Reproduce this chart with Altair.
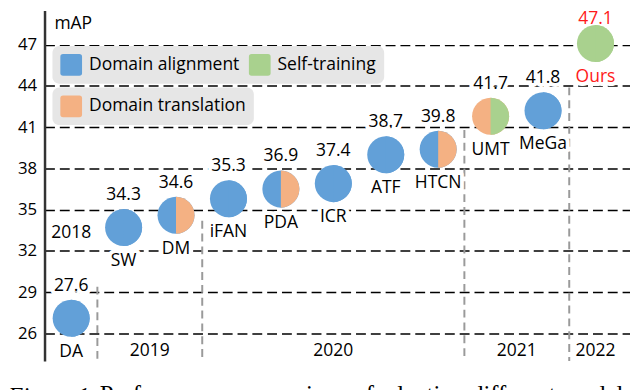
import altair as alt
import pandas as pd

# ---------------- data ----------------
models = ["DA", "SW", "DM", "iFAN", "PDA", "ICR", "ATF", "HTCN", "UMT", "MeGa", "Ours"]
map_values = [27.6, 34.3, 34.6, 35.3, 36.9, 37.4, 38.7, 39.8, 41.7, 41.8, 47.1]
marker_y = [27.1, 33.7, 34.6, 35.8, 36.5, 36.9, 39.0, 39.4, 41.8, 42.2, 47.1]
years = [2018, 2019, 2019, 2020, 2020, 2020, 2020, 2020, 2021, 2021, 2022]
left_method = ["Domain alignment", "Domain alignment", "Domain alignment", "Domain alignment",
               "Domain alignment", "Domain alignment", "Domain alignment", "Domain alignment",
               "Domain translation", "Domain alignment", "Self-training"]
right_method = ["Domain alignment", "Domain alignment", "Domain translation", "Domain alignment",
                "Domain translation", "Domain alignment", "Domain alignment", "Domain translation",
                "Self-training", "Domain alignment", "Self-training"]
method_names = ["Domain alignment", "Self-training", "Domain translation"]
method_colors = ["#62a0d8", "#a9d18e", "#f4b183"]
y_ticks = [26, 29, 32, 35, 38, 41, 44, 47]
year_names = ["2018", "2019", "2020", "2021", "2022"]
year_label_y = [33.3, 24.7, 24.7, 24.7, 24.7]
separator_top = [29.4, 34.2, 40.8, 43.9]
axis_title = "mAP"
caption_italic = "Figure 1."
caption_text = "Performance comparison of adapting different models"

# ---------------- tables ----------------
idx = list(range(len(models)))
df = pd.DataFrame({
    "idx": idx, "model": models, "value": map_values, "marker_y": marker_y,
    "year": years, "left": left_method, "right": right_method,
})
df["value_txt"] = df["value"].map(lambda v: f"{v:.1f}")
df["is_ours"] = df["model"] == "Ours"

ymin, ymax = 23.99, 49.49

sep_x = [i + 0.5 for i in range(len(years) - 1) if years[i] != years[i + 1]]
sep_df = pd.DataFrame({"sep_x": sep_x, "sep_top": separator_top, "sep_bottom": [ymin] * len(sep_x)})

year_x = [float(pd.Series([i for i, y in zip(idx, years) if str(y) == yn]).mean()) for yn in year_names]
year_df = pd.DataFrame({"year_txt": year_names, "year_x": year_x, "year_y": year_label_y})

FONT = "Open Sans"
FS = 17.7

xscale = alt.Scale(domain=[-0.508, 10.659], nice=False, zero=False)
yscale = alt.Scale(domain=[ymin, ymax], nice=False, zero=False)
yaxis = alt.Axis(values=y_ticks, title=None, labelFont=FONT, labelFontSize=17, labelColor="black",
                 labelPadding=8, ticks=False, domainColor="#333333", domainWidth=2.5,
                 grid=True, gridColor="black", gridDash=[10, 5], gridWidth=1.5, gridOpacity=1)


def xenc(f):
    return alt.X(f"{f}:Q", scale=xscale, axis=None)


def yenc(f):
    return alt.Y(f"{f}:Q", scale=yscale, axis=yaxis)


full_circle = "M 0 -1 A 1 1 0 1 1 0 1 A 1 1 0 1 1 0 -1 Z"
right_half = "M 0 -1 A 1 1 0 0 1 0 1 Z"
round_sq = "M -1 -0.75 Q -1 -1 -0.75 -1 H 0.75 Q 1 -1 1 -0.75 V 0.75 Q 1 1 0.75 1 H -0.75 Q -1 1 -1 0.75 Z"
MSIZE = 1406

method_scale = alt.Scale(domain=method_names, range=method_colors)

others = alt.Chart(df).transform_filter("!datum.is_ours")
ours = alt.Chart(df).transform_filter("datum.is_ours")
base = alt.Chart(df)

separators = alt.Chart(sep_df).mark_rule(color="#9a9a9a", strokeWidth=2, strokeDash=[8, 5]).encode(
    x=xenc("sep_x"), y=yenc("sep_top"), y2=alt.Y2("sep_bottom:Q"))

halo_kw = dict(font=FONT, fontSize=FS, fill="white", stroke="white", strokeWidth=8,
               strokeJoin="round", baseline="middle", align="center")
halo_val = others.mark_text(dy=-33, **halo_kw).encode(x=xenc("idx"), y=yenc("marker_y"), text="value_txt:N")
halo_name = base.mark_text(dy=34, **halo_kw).encode(x=xenc("idx"), y=yenc("marker_y"), text="model:N")
halo_year = alt.Chart(year_df).mark_text(**halo_kw).encode(x=xenc("year_x"), y=yenc("year_y"), text="year_txt:N")

circles = base.mark_point(shape=full_circle, filled=True, opacity=1, size=MSIZE, strokeWidth=0).encode(
    x=xenc("idx"), y=yenc("marker_y"), color=alt.Color("left:N", scale=method_scale, legend=None))
halves = base.mark_point(shape=right_half, filled=True, opacity=1, size=MSIZE, strokeWidth=0).encode(
    x=xenc("idx"), y=yenc("marker_y"), color=alt.Color("right:N", scale=method_scale, legend=None))

txt_color = alt.condition("datum.model == 'Ours'", alt.value("#ff1a1a"), alt.value("black"))
val_text = others.mark_text(dy=-33, font=FONT, fontSize=FS, baseline="middle", align="center").encode(
    x=xenc("idx"), y=yenc("marker_y"), text="value_txt:N", color=txt_color)
val_text_o = ours.mark_text(dy=-25, font=FONT, fontSize=FS, baseline="middle", align="center").encode(
    x=xenc("idx"), y=yenc("marker_y"), text="value_txt:N", color=txt_color)
name_text = base.mark_text(dy=34, font=FONT, fontSize=FS, baseline="middle", align="center").encode(
    x=xenc("idx"), y=yenc("marker_y"), text="model:N", color=txt_color)
year_text = alt.Chart(year_df).mark_text(font=FONT, fontSize=FS, baseline="middle", align="center",
                                         color="black").encode(
    x=xenc("year_x"), y=yenc("year_y"), text="year_txt:N")


def legend_layer(names, lx, ly, cols):
    ldf = pd.DataFrame({"method": names})
    cols_ = [method_colors[method_names.index(n)] for n in names]
    return alt.Chart(ldf).mark_point(shape=round_sq, filled=True, opacity=0, size=10).encode(
        color=alt.Color("method:N", scale=alt.Scale(domain=names, range=cols_),
                        legend=alt.Legend(title=None, orient="none", legendX=lx, legendY=ly,
                                          direction="horizontal", columns=cols,
                                          fillColor="#e6e6e6", cornerRadius=7, padding=8,
                                          symbolType=round_sq, symbolSize=484, symbolStrokeWidth=0,
                                          symbolOpacity=1, labelFont=FONT, labelFontSize=FS,
                                          labelColor="black", labelOffset=7, columnPadding=9,
                                          rowPadding=0, labelLimit=400)))


legA = legend_layer(["Domain alignment", "Self-training"], 8, 36, 2)
legB = legend_layer(["Domain translation"], 8, 78, 1)

title_df = pd.DataFrame({"t": [axis_title]})
title_txt = alt.Chart(title_df).mark_text(font=FONT, fontSize=FS, align="left", baseline="middle",
                                          color="black").encode(
    x=alt.value(10), y=alt.value(14), text="t:N")

cap_df = pd.DataFrame({"a": [caption_italic], "b": [caption_text]})
cap1 = alt.Chart(cap_df).mark_text(font="Liberation Serif", fontSize=24, fontStyle="italic",
                                   align="left", baseline="alphabetic", color="black").encode(
    x=alt.value(-37), y=alt.value(397), text="a:N")
cap2 = alt.Chart(cap_df).mark_text(font="Liberation Serif", fontSize=25,
                                   align="left", baseline="alphabetic", color="black").encode(
    x=alt.value(56), y=alt.value(397), text="b:N")

chart = alt.layer(
    separators, halo_val, halo_name, halo_year, circles, halves,
    val_text, val_text_o, name_text, year_text, title_txt, legA, legB, cap1, cap2
).resolve_scale(color="independent").properties(
    width=593, height=355,
    autosize=alt.AutoSizeParams(type="none"),
    padding={"left": 37, "right": 0, "top": 0, "bottom": 50},
).configure_view(strokeWidth=0)

chart.save("out.html", embed_options={"renderer": "svg", "actions": False})
